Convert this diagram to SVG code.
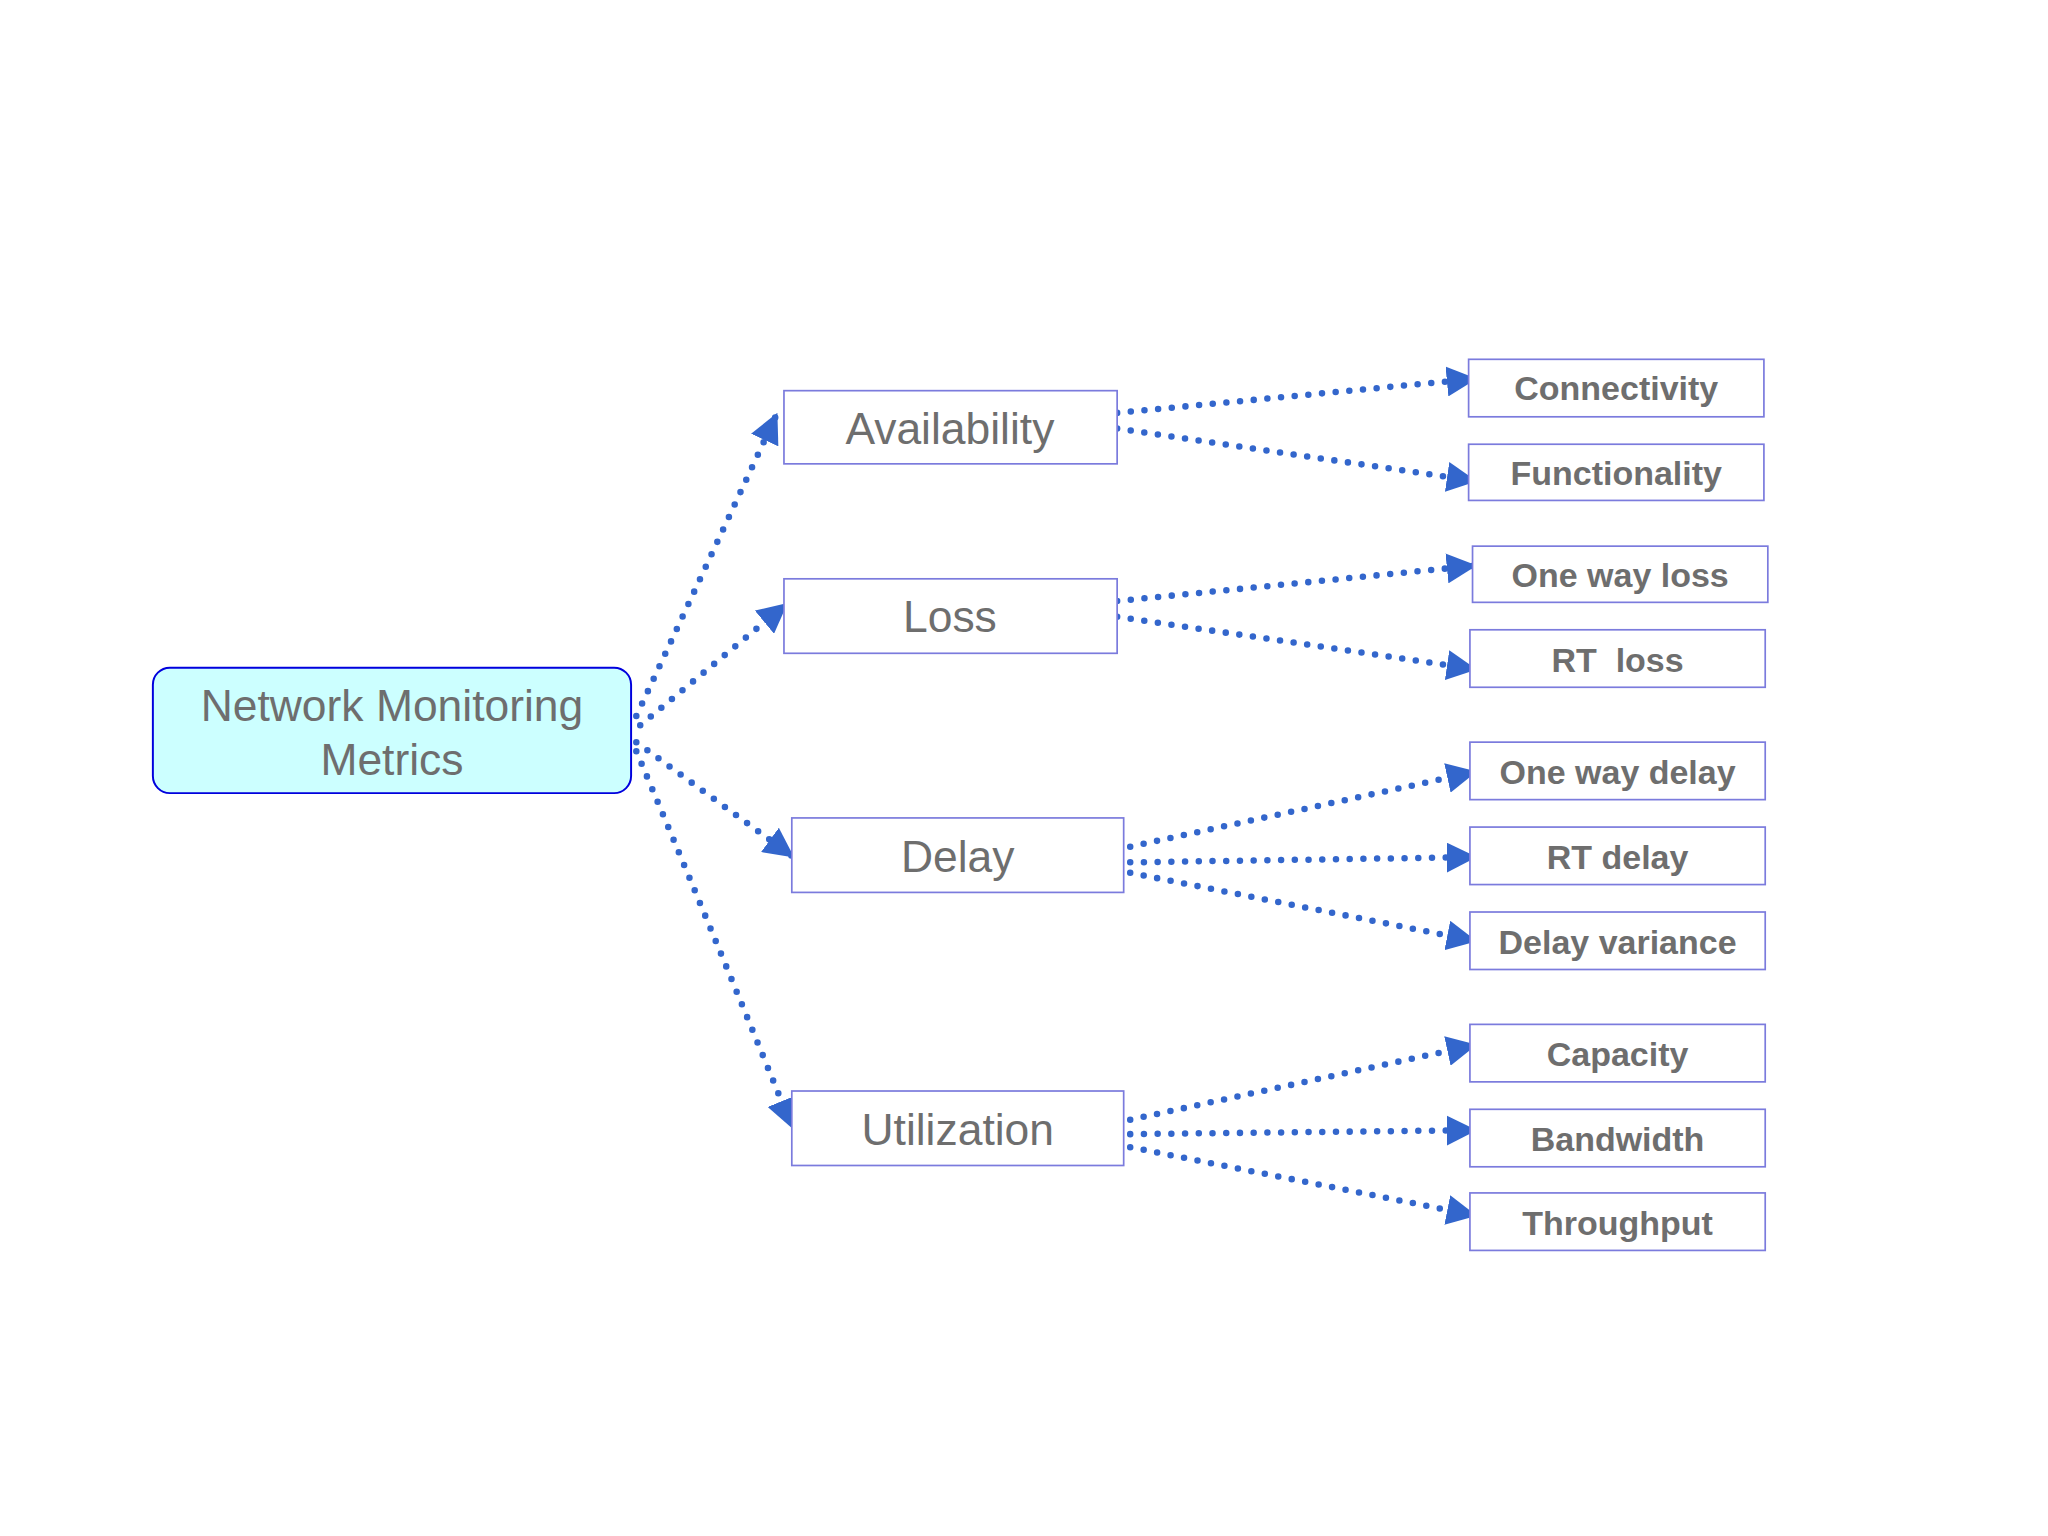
<svg xmlns="http://www.w3.org/2000/svg" width="2048" height="1536" viewBox="0 0 2048 1536">
<defs>
<style>
.box{fill:#fff;stroke:#7b7bdd;stroke-width:1.3}
.mid{font-family:"Liberation Sans",Arial,sans-serif;font-size:34px;fill:#6e6e6e;text-anchor:middle}
.leaf{font-family:"Liberation Sans",Arial,sans-serif;font-size:26px;font-weight:bold;fill:#6e6e6e;text-anchor:middle}
.c{fill:none;stroke:#3366cc;stroke-width:5;stroke-linecap:round;stroke-dasharray:0 10.5;marker-end:url(#a)}
</style>
<marker id="a" viewBox="0 0 10 10" refX="9" refY="5" markerWidth="4.6" markerHeight="4.6" orient="auto" markerUnits="strokeWidth">
<path d="M0,0L10,5L0,10z" fill="#3366cc"/>
</marker>
</defs>
<rect width="2048" height="1536" fill="#fff"/>
<g transform="scale(1.3066)">
<g id="connectors">
<path class="c" d="M487,548L594,318"/>
<path class="c" d="M490,555L601,463"/>
<path class="c" d="M487,568L606,655"/>
<path class="c" d="M487,575Q540,700 606,862"/>
<path class="c" d="M855,316L1128,290"/>
<path class="c" d="M855,328L1128,368"/>
<path class="c" d="M855,460L1128,433"/>
<path class="c" d="M855,472L1128,512"/>
<path class="c" d="M865,648L1128,591"/>
<path class="c" d="M865,660L1128,656"/>
<path class="c" d="M865,668L1128,720"/>
<path class="c" d="M865,857L1128,800"/>
<path class="c" d="M865,868L1128,865"/>
<path class="c" d="M865,878L1128,930"/>
</g>
<g id="root"><rect x="117" y="511" width="366" height="96" rx="13" fill="#ccffff" stroke="#0000dd" stroke-width="1.5"/>
<text class="mid" x="300" y="552" font-size="32">Network Monitoring</text><text class="mid" x="300" y="593" font-size="32">Metrics</text></g>
<g id="availability"><rect class="box" x="600" y="299" width="255" height="56"/><text class="mid" x="727" y="340">Availability</text></g>
<g id="loss"><rect class="box" x="600" y="443" width="255" height="57"/><text class="mid" x="727" y="484">Loss</text></g>
<g id="delay"><rect class="box" x="606" y="626" width="254" height="57"/><text class="mid" x="733" y="667">Delay</text></g>
<g id="utilization"><rect class="box" x="606" y="835" width="254" height="57"/><text class="mid" x="733" y="876">Utilization</text></g>
<g id="connectivity"><rect class="box" x="1124" y="275" width="226" height="44"/><text class="leaf" x="1237" y="306">Connectivity</text></g>
<g id="functionality"><rect class="box" x="1124" y="340" width="226" height="43"/><text class="leaf" x="1237" y="371">Functionality</text></g>
<g id="onewayloss"><rect class="box" x="1127" y="418" width="226" height="43"/><text class="leaf" x="1240" y="449">One way loss</text></g>
<g id="rtloss"><rect class="box" x="1125" y="482" width="226" height="44"/><text class="leaf" x="1238" y="514" xml:space="preserve">RT  loss</text></g>
<g id="onewaydelay"><rect class="box" x="1125" y="568" width="226" height="44"/><text class="leaf" x="1238" y="600">One way delay</text></g>
<g id="rtdelay"><rect class="box" x="1125" y="633" width="226" height="44"/><text class="leaf" x="1238" y="665">RT delay</text></g>
<g id="delayvariance"><rect class="box" x="1125" y="698" width="226" height="44"/><text class="leaf" x="1238" y="730">Delay variance</text></g>
<g id="capacity"><rect class="box" x="1125" y="784" width="226" height="44"/><text class="leaf" x="1238" y="816">Capacity</text></g>
<g id="bandwidth"><rect class="box" x="1125" y="849" width="226" height="44"/><text class="leaf" x="1238" y="881">Bandwidth</text></g>
<g id="throughput"><rect class="box" x="1125" y="913" width="226" height="44"/><text class="leaf" x="1238" y="945">Throughput</text></g>
</g>
</svg>
